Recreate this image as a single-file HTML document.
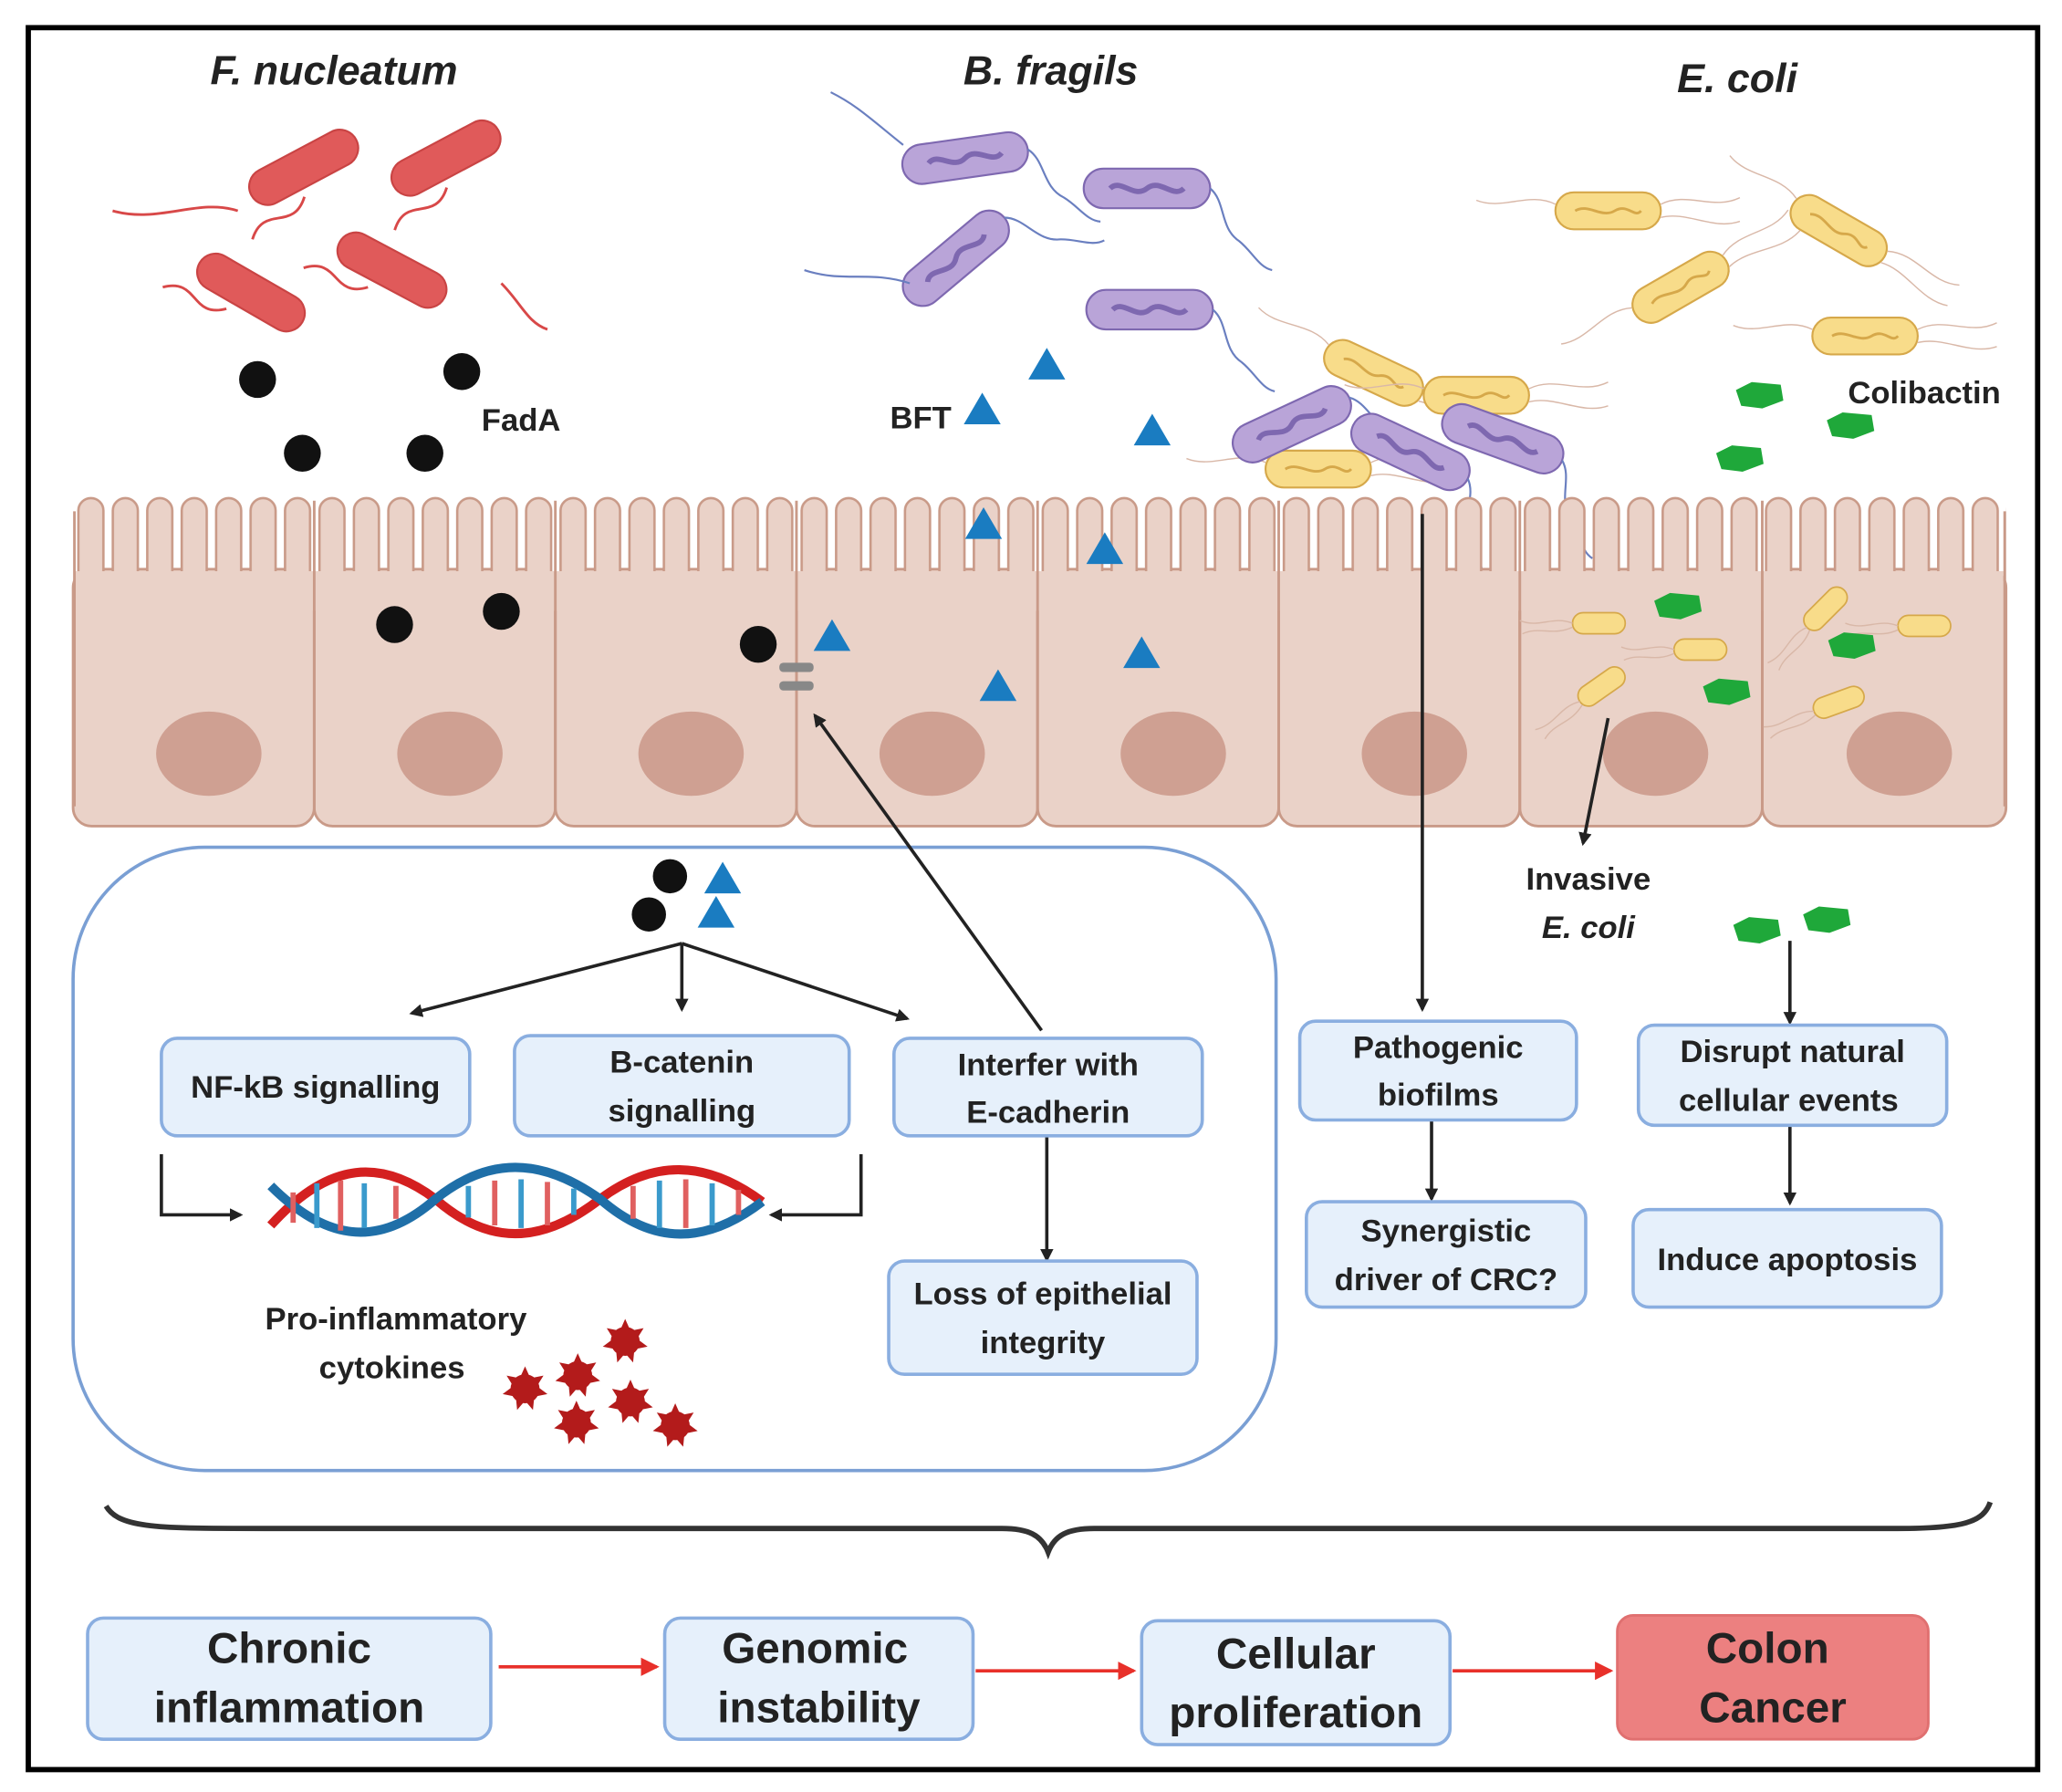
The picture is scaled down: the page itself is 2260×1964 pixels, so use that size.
<!DOCTYPE html>
<html><head><meta charset="utf-8"><style>
html,body{margin:0;padding:0;background:#fff}
svg{display:block}
text{font-family:"Liberation Sans",sans-serif;font-weight:bold;fill:#222}
</style></head><body>
<svg width="2260" height="1964" viewBox="0 0 1564 1360" xmlns="http://www.w3.org/2000/svg">
<defs>
<pattern id="mv2" x="55" y="0" width="26.14" height="600" patternUnits="userSpaceOnUse">
<rect x="4" y="378" width="19" height="90" rx="9.5" fill="#ead2c8" stroke="#c99a88" stroke-width="1.8"/>
</pattern>
<marker id="ah" markerWidth="10" markerHeight="10" refX="8" refY="5" orient="auto" markerUnits="userSpaceOnUse"><path d="M0,0 L10,5 L0,10 z" fill="#222"/></marker>
<marker id="ar" markerWidth="14" markerHeight="14" refX="12" refY="7" orient="auto" markerUnits="userSpaceOnUse"><path d="M0,0 L14,7 L0,14 z" fill="#e8302a"/></marker>
<g id="tri"><path d="M0,-14 L14,10 L-14,10 z" fill="#1a7cc1"/></g>
<g id="pent"><path d="M-18,-4 L-6,-10 L16,-8 L18,4 L2,10 L-14,8 z" fill="#1fa83a"/></g>
<g id="star"><circle r="11" fill="#b31b1b"/><path d="M0,-17 L4,-8 L14,-10 L9,-2 L17,4 L7,6 L6,16 L0,9 L-6,16 L-7,6 L-17,4 L-9,-2 L-14,-10 L-4,-8 z" fill="#b31b1b"/></g>
<g id="red"><path d="M-60,30 C-40,10 -30,40 -10,20" fill="none" stroke="#d84848" stroke-width="2"/><rect x="-45" y="-14" width="90" height="28" rx="14" fill="#e05a5a" stroke="#c94444" stroke-width="1.5"/></g>
<g id="pur"><rect x="-48" y="-15" width="96" height="30" rx="15" fill="#b9a4d8" stroke="#7e68b0" stroke-width="1.5"/><path d="M-28,0 C-20,-8 -10,8 0,0 C10,-8 20,8 28,0" fill="none" stroke="#7e68b0" stroke-width="4"/><path d="M48,0 C60,10 55,30 70,40 C80,48 85,60 95,62" fill="none" stroke="#6a7fc0" stroke-width="1.5"/></g>
<g id="yel"><rect x="-40" y="-14" width="80" height="28" rx="14" fill="#f8dc8a" stroke="#d6a84a" stroke-width="1.5"/><path d="M-25,0 C-15,-6 -5,6 5,0 C15,-6 20,6 25,0" fill="none" stroke="#d6a84a" stroke-width="2"/><path d="M40,-5 C60,-15 80,0 100,-10 M40,5 C60,0 80,15 100,8 M-40,-5 C-60,-15 -80,0 -100,-8" fill="none" stroke="#d9b8a8" stroke-width="1"/></g>
<g id="ys"><rect x="-20" y="-8" width="40" height="16" rx="8" fill="#f8dc8a" stroke="#d6a84a" stroke-width="1.2"/><path d="M-20,0 C-35,-6 -45,4 -60,-2 M-20,3 C-35,10 -45,2 -58,8" fill="none" stroke="#d9b8a8" stroke-width="1"/></g>
</defs>
<rect x="0" y="0" width="1564" height="1360" fill="#fff"/>
<rect x="21" y="21" width="1525" height="1322" fill="none" stroke="#000" stroke-width="4"/>

<text x="253" y="64" font-size="31" font-style="italic" text-anchor="middle">F. nucleatum</text>
<text x="797" y="64" font-size="31" font-style="italic" text-anchor="middle">B. fragils</text>
<text x="1318" y="70" font-size="31" font-style="italic" text-anchor="middle">E. coli</text>

<use href="#red" transform="translate(230,127) rotate(-28)"/>
<use href="#red" transform="translate(338,120) rotate(-28)"/>
<use href="#red" transform="translate(190,222) rotate(30)"/>
<use href="#red" transform="translate(297,205) rotate(28)"/>
<path d="M85,160 C120,170 150,150 180,160 M380,215 C395,230 400,245 415,250" fill="none" stroke="#d84848" stroke-width="2"/>

<circle cx="195" cy="288" r="14" fill="#111"/><circle cx="350" cy="282" r="14" fill="#111"/>
<circle cx="229" cy="344" r="14" fill="#111"/><circle cx="322" cy="344" r="14" fill="#111"/>
<text x="365" y="327" font-size="24">FadA</text>

<use href="#pur" transform="translate(732,120) rotate(-8)"/>
<use href="#pur" transform="translate(870,143) rotate(0)"/>
<use href="#pur" transform="translate(725,196) rotate(-40)"/>
<use href="#pur" transform="translate(872,235) rotate(0)"/>
<path d="M685,110 C660,90 650,80 630,70 M690,215 C660,205 640,215 610,205" fill="none" stroke="#6a7fc0" stroke-width="1.5"/>
<text x="675" y="325" font-size="24">BFT</text>
<use href="#tri" transform="translate(745,312)"/><use href="#tri" transform="translate(794,278)"/><use href="#tri" transform="translate(874,328)"/>

<use href="#yel" transform="translate(1220,160)"/>
<use href="#yel" transform="translate(1395,175) rotate(30)"/>
<use href="#yel" transform="translate(1275,218) rotate(-30)"/>
<use href="#yel" transform="translate(1415,255)"/>
<use href="#yel" transform="translate(1042,283) rotate(25)"/>
<use href="#yel" transform="translate(1120,300)"/>
<use href="#yel" transform="translate(1000,356)"/>
<use href="#pur" transform="translate(980,322) rotate(-25)"/>
<use href="#pur" transform="translate(1070,343) rotate(25)"/>
<use href="#pur" transform="translate(1140,333) rotate(20)"/>
<use href="#pent" transform="translate(1335,300)"/><use href="#pent" transform="translate(1404,323)"/><use href="#pent" transform="translate(1320,348)"/>
<text x="1402" y="306" font-size="24">Colibactin</text>

<!-- epithelium -->
<g fill="#ead2c8" stroke="#c99a88" stroke-width="2">
<rect x="55" y="432" width="183" height="195" rx="14"/>
<rect x="238" y="432" width="183" height="195" rx="14"/>
<rect x="421" y="432" width="183" height="195" rx="14"/>
<rect x="604" y="432" width="183" height="195" rx="14"/>
<rect x="787" y="432" width="183" height="195" rx="14"/>
<rect x="970" y="432" width="183" height="195" rx="14"/>
<rect x="1153" y="432" width="184" height="195" rx="14"/>
<rect x="1337" y="432" width="185" height="195" rx="14"/>
</g>
<rect x="55" y="376" width="1467" height="80" fill="url(#mv2)"/>
<rect x="57" y="433.5" width="1463" height="30" fill="#ead2c8"/>
<g stroke="#c99a88" stroke-width="2">
<line x1="56" y1="388" x2="56" y2="612"/><line x1="1521" y1="388" x2="1521" y2="612"/>
<line x1="238" y1="380" x2="238" y2="615"/><line x1="421" y1="380" x2="421" y2="615"/><line x1="604" y1="380" x2="604" y2="615"/><line x1="787" y1="380" x2="787" y2="615"/><line x1="970" y1="380" x2="970" y2="615"/><line x1="1153" y1="380" x2="1153" y2="615"/><line x1="1337" y1="380" x2="1337" y2="615"/>
</g>
<g fill="#cfa092">
<ellipse cx="158" cy="572" rx="40" ry="32"/><ellipse cx="341" cy="572" rx="40" ry="32"/><ellipse cx="524" cy="572" rx="40" ry="32"/><ellipse cx="707" cy="572" rx="40" ry="32"/><ellipse cx="890" cy="572" rx="40" ry="32"/><ellipse cx="1073" cy="572" rx="40" ry="32"/><ellipse cx="1256" cy="572" rx="40" ry="32"/><ellipse cx="1441" cy="572" rx="40" ry="32"/>
</g>
<circle cx="299" cy="474" r="14" fill="#111"/><circle cx="380" cy="464" r="14" fill="#111"/><circle cx="575" cy="489" r="14" fill="#111"/>
<rect x="591" y="503" width="26" height="7" rx="3" fill="#888"/><rect x="591" y="517" width="26" height="7" rx="3" fill="#888"/>
<use href="#tri" transform="translate(631,484)"/><use href="#tri" transform="translate(746,399)"/><use href="#tri" transform="translate(838,418)"/><use href="#tri" transform="translate(757,522)"/><use href="#tri" transform="translate(866,497)"/>
<use href="#ys" transform="translate(1213,473)"/><use href="#ys" transform="translate(1290,493)"/><use href="#ys" transform="translate(1215,521) rotate(-35)"/><use href="#ys" transform="translate(1385,462) rotate(-45)"/><use href="#ys" transform="translate(1460,475)"/><use href="#ys" transform="translate(1395,533) rotate(-20)"/>
<use href="#pent" transform="translate(1273,460)"/><use href="#pent" transform="translate(1405,490)"/><use href="#pent" transform="translate(1310,525)"/>

<rect x="55" y="643" width="913" height="473" rx="100" fill="none" stroke="#7a9fd4" stroke-width="2.5"/>
<circle cx="508" cy="665" r="13" fill="#111"/><circle cx="492" cy="694" r="13" fill="#111"/>
<use href="#tri" transform="translate(548,668)"/><use href="#tri" transform="translate(543,694)"/>

<g stroke="#222" stroke-width="2.5" fill="none">
<line x1="517" y1="716" x2="312" y2="769" marker-end="url(#ah)"/>
<line x1="517" y1="716" x2="517" y2="766" marker-end="url(#ah)"/>
<line x1="517" y1="716" x2="688" y2="773" marker-end="url(#ah)"/>
<line x1="790" y1="782" x2="618" y2="543" marker-end="url(#ah)"/>
<line x1="794" y1="862" x2="794" y2="956" marker-end="url(#ah)"/>
<path d="M122,876 V922 H182" marker-end="url(#ah)"/>
<path d="M653,876 V922 H585" marker-end="url(#ah)"/>
<line x1="1079" y1="390" x2="1079" y2="766" marker-end="url(#ah)"/>
<line x1="1086" y1="850" x2="1086" y2="910" marker-end="url(#ah)"/>
<line x1="1220" y1="545" x2="1201" y2="640" marker-end="url(#ah)"/>
<line x1="1358" y1="714" x2="1358" y2="776" marker-end="url(#ah)"/>
<line x1="1358" y1="854" x2="1358" y2="913" marker-end="url(#ah)"/>
</g>

<g fill="#e6f0fb" stroke="#8aaee0" stroke-width="2.5">
<rect x="122" y="788" width="234" height="74" rx="12"/>
<rect x="390" y="786" width="254" height="76" rx="12"/>
<rect x="678" y="788" width="234" height="74" rx="12"/>
<rect x="674" y="957" width="234" height="86" rx="12"/>
<rect x="986" y="775" width="210" height="75" rx="12"/>
<rect x="991" y="912" width="212" height="80" rx="12"/>
<rect x="1243" y="778" width="234" height="76" rx="12"/>
<rect x="1239" y="918" width="234" height="74" rx="12"/>
<rect x="66" y="1228" width="306" height="92" rx="12"/>
<rect x="504" y="1228" width="234" height="92" rx="12"/>
<rect x="866" y="1230" width="234" height="94" rx="12"/>
</g>
<rect x="1227" y="1226" width="236" height="94" rx="12" fill="#ec8080" stroke="#e07070" stroke-width="2"/>

<g font-size="24" text-anchor="middle">
<text x="239" y="833">NF-kB signalling</text>
<text x="517" y="814">B-catenin</text><text x="517" y="851">signalling</text>
<text x="795" y="816">Interfer with</text><text x="795" y="852">E-cadherin</text>
<text x="791" y="990">Loss of epithelial</text><text x="791" y="1027">integrity</text>
<text x="1091" y="803">Pathogenic</text><text x="1091" y="839">biofilms</text>
<text x="1097" y="942">Synergistic</text><text x="1097" y="979">driver of CRC?</text>
<text x="1360" y="806">Disrupt natural</text><text x="1357" y="843">cellular events</text>
<text x="1356" y="964">Induce apoptosis</text>
<text x="1205" y="675">Invasive</text>
<text x="1205" y="712" font-style="italic">E. coli</text>
<text x="300" y="1009">Pro-inflammatory</text>
<text x="297" y="1046">cytokines</text>
</g>
<g font-size="33" text-anchor="middle">
<text x="219" y="1262">Chronic</text><text x="219" y="1307">inflammation</text>
<text x="618" y="1262">Genomic</text><text x="621" y="1307">instability</text>
<text x="983" y="1266">Cellular</text><text x="983" y="1311">proliferation</text>
<text x="1341" y="1262">Colon</text><text x="1345" y="1307">Cancer</text>
</g>

<g stroke="#e8302a" stroke-width="2.5">
<line x1="378" y1="1265" x2="498" y2="1265" marker-end="url(#ar)"/>
<line x1="740" y1="1268" x2="860" y2="1268" marker-end="url(#ar)"/>
<line x1="1102" y1="1268" x2="1222" y2="1268" marker-end="url(#ar)"/>
</g>

<g fill="none" stroke-width="7">
<path d="M205,930 C250,880 290,880 330,910 C370,945 410,945 455,910 C495,880 535,880 578,912" stroke="#d42020"/>
<path d="M205,900 C250,945 290,945 330,910 C370,878 410,878 455,910 C495,945 535,945 578,912" stroke="#1f6fa8"/>
</g>
<g stroke-width="4">
<line x1="222" y1="905" x2="222" y2="928" stroke="#e06060"/><line x1="240" y1="898" x2="240" y2="932" stroke="#3a9acc"/><line x1="258" y1="896" x2="258" y2="934" stroke="#e06060"/><line x1="276" y1="898" x2="276" y2="932" stroke="#3a9acc"/><line x1="300" y1="900" x2="300" y2="925" stroke="#e06060"/>
<line x1="355" y1="900" x2="355" y2="924" stroke="#3a9acc"/><line x1="375" y1="896" x2="375" y2="930" stroke="#e06060"/><line x1="395" y1="895" x2="395" y2="932" stroke="#3a9acc"/><line x1="415" y1="897" x2="415" y2="930" stroke="#e06060"/><line x1="435" y1="902" x2="435" y2="922" stroke="#3a9acc"/>
<line x1="480" y1="900" x2="480" y2="925" stroke="#e06060"/><line x1="500" y1="896" x2="500" y2="932" stroke="#3a9acc"/><line x1="520" y1="895" x2="520" y2="932" stroke="#e06060"/><line x1="540" y1="898" x2="540" y2="930" stroke="#3a9acc"/><line x1="560" y1="903" x2="560" y2="922" stroke="#e06060"/>
</g>
<use href="#star" transform="translate(474,1018)"/><use href="#star" transform="translate(438,1044)"/><use href="#star" transform="translate(398,1054)"/><use href="#star" transform="translate(478,1064)"/><use href="#star" transform="translate(437,1080)"/><use href="#star" transform="translate(512,1082)"/>

<use href="#pent" transform="translate(1333,706)"/><use href="#pent" transform="translate(1386,698)"/>

<path d="M80,1143 C90,1160 120,1160 200,1160 L760,1160 C780,1160 790,1165 795,1178 C800,1165 810,1160 830,1160 L1440,1160 C1490,1160 1505,1155 1510,1140" fill="none" stroke="#333" stroke-width="4"/>
</svg>
</body></html>
